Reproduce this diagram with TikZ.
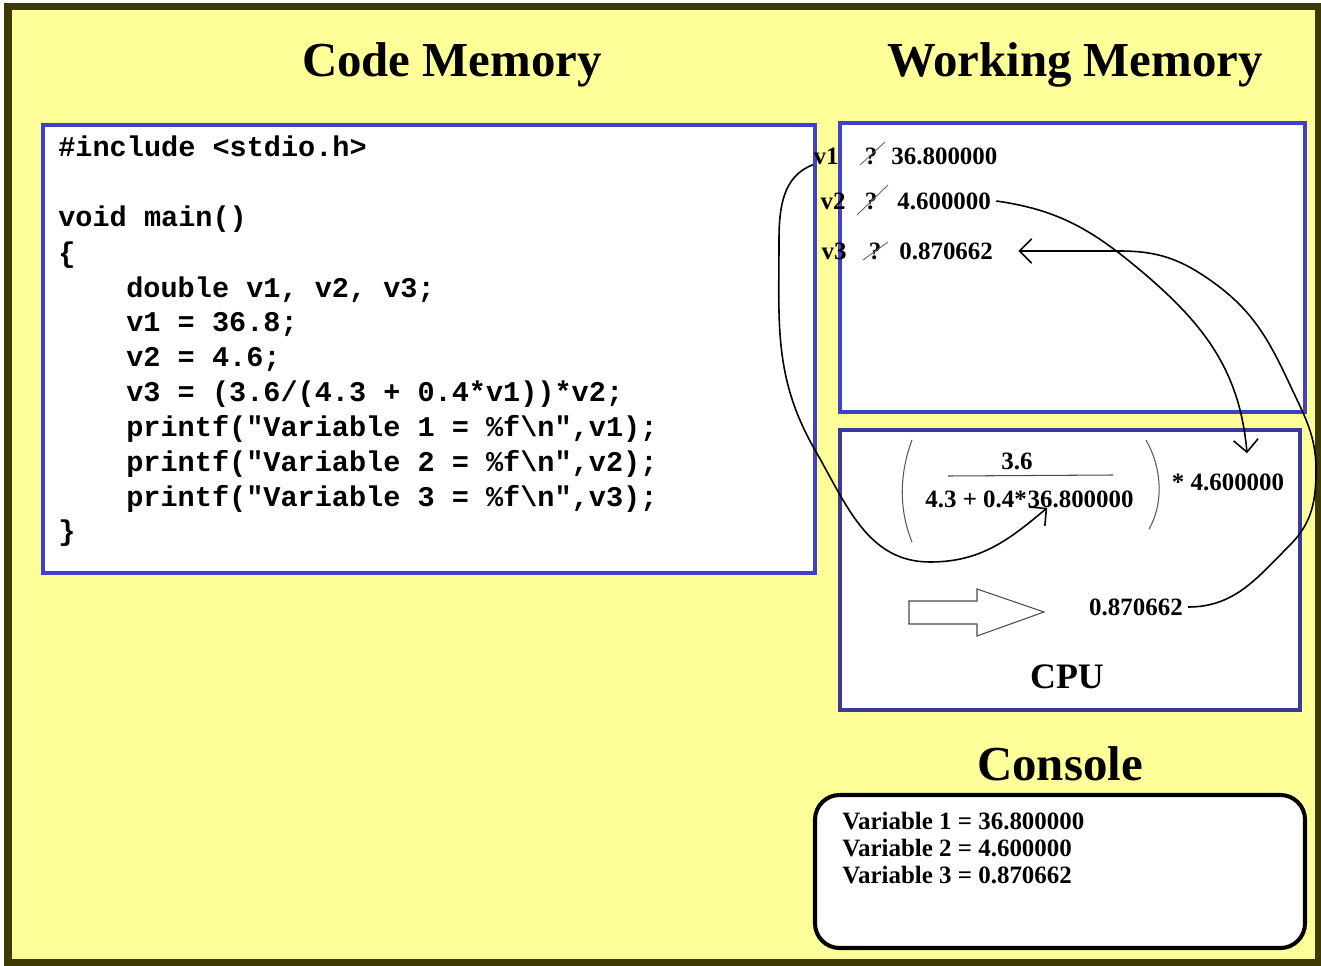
\documentclass[tikz,border=0pt]{standalone}
\usepackage{fontspec}
\setmainfont{Liberation Serif}
\setmonofont{Liberation Mono}
\usepackage{xcolor}
\usetikzlibrary{arrows.meta,positioning}

\definecolor{paleyellow}{HTML}{FFFF99}
\definecolor{olivedark}{HTML}{3D3A00}
\definecolor{membox}{HTML}{4040CC}
\definecolor{cpubox}{HTML}{3A3A99}

\tikzset{
  title/.style={font=\fontsize{27.8}{33}\selectfont\bfseries, inner sep=0pt, anchor=base},
  val/.style={font=\fontsize{14.2}{17}\selectfont\bfseries, inner sep=0pt},
  codeline/.style={font=\fontsize{16.25}{20}\selectfont\ttfamily\bfseries, anchor=base west, inner sep=0pt},
  crossout/.style={draw=gray!80!black, line width=0.5pt},
  scribble/.style={line width=0.9pt, -{Straight Barb[length=7pt,width=14pt]}}
}

\begin{document}
\frenchspacing
\begin{tikzpicture}[x=0.02cm,y=-0.02cm]
  \useasboundingbox (0,0) rectangle (1321,966);
  % slide background
  \draw[olivedark, line width=4pt, fill=paleyellow] (8,6.5) rectangle (1318,963);

  % headings
  \node[title] (codetitle) at (452,77) {Code Memory};
  \node[title] (worktitle) at (1075,77) {Working Memory};
  \node[title] (contitle) at (1060,780) {Console};

  % code memory
  \draw[membox, line width=2.8pt, fill=white] (43,125) rectangle (815,573);
  \node[codeline] (c1) at (58,157) {\#include <stdio.h>};
  \node[codeline] (c2) at (58,227) {void main()};
  \node[codeline] (c3) at (58,262) {\{};
  \node[codeline] (c4) at (126,297) {double v1, v2, v3;};
  \node[codeline] (c5) at (126,331) {v1 = 36.8;};
  \node[codeline] (c6) at (126,366) {v2 = 4.6;};
  \node[codeline] (c7) at (126,401) {v3 = (3.6/(4.3 + 0.4*v1))*v2;};
  \node[codeline] (c8) at (126,436) {printf("Variable 1 = \%f\textbackslash n",v1);};
  \node[codeline] (c9) at (126,471) {printf("Variable 2 = \%f\textbackslash n",v2);};
  \node[codeline] (c10) at (126,506) {printf("Variable 3 = \%f\textbackslash n",v3);};
  \node[codeline] (c11) at (58,540) {\}};

  % working memory
  \draw[membox, line width=2.8pt, fill=white] (840,123) rectangle (1305,412);
  \node[val] (v1lbl) at (826,156) {v1};
  \node[val] (v2lbl) at (833,201) {v2};
  \node[val] (v3lbl) at (834,251) {v3};
  \node[val] (q1) at (871,156) {?};
  \node[val] (q2) at (871,201) {?};
  \node[val] (q3) at (875,251) {?};
  \draw[crossout] (860,165) -- (885,142);
  \draw[crossout] (857,215) -- (888,185);
  \draw[crossout] (863,260) -- (888,242);
  \node[val, anchor=west] (v1val) at (891,156) {36.800000};
  \node[val, anchor=west] (v2val) at (897,201) {4.600000};
  \node[val, anchor=west] (v3val) at (899,251) {0.870662};

  % cpu
  \draw[cpubox, line width=2.8pt, fill=white] (840,430) rectangle (1300,710);
  \node[val] (num) at (1017,461) {3.6};
  \draw[gray!60!black, line width=0.6pt] (948,476) -- (1113,475);
  \node[val, anchor=west] (denomc) at (925,499) {4.3 + 0.4*};
  \node[val, right=0pt of denomc] (denomv1) {36.800000};
  \draw[gray!70!black, line width=0.6pt] (912,440) .. controls (899,475) and (899,510) .. (912,542);
  \draw[gray!70!black, line width=0.6pt] (1146,440) .. controls (1163,470) and (1163,505) .. (1149,529);
  \node[val] (mult) at (1228,482) {* 4.600000};
  \draw[gray!60!black, line width=0.6pt, fill=white] (909,601) -- (977,601) -- (977,589) -- (1044,612)
    -- (977,636) -- (977,624) -- (909,624) -- cycle;
  \node[val] (result) at (1136,607) {0.870662};
  \node[font=\fontsize{20.4}{24}\selectfont\bfseries, inner sep=0pt] (cpu) at (1067,677) {CPU};

  % console
  \draw[black, line width=2.3pt, fill=white, rounded corners=14pt] (815,795) rectangle (1305,948);
  \node[val, anchor=west] (out1) at (842,821) {Variable 1 = 36.800000};
  \node[val, anchor=west] (out2) at (842,848) {Variable 2 = 4.600000};
  \node[val, anchor=west] (out3) at (842,875) {Variable 3 = 0.870662};

  % hand drawn data flow
  \draw[scribble] (v1lbl.south west) to[out=200,in=90] (779,240) to[out=-90,in=120] (815,450)
    to[out=-60,in=180] (930,562) to[out=0,in=220] ([xshift=0.4cm]denomv1.south west);
  \draw[scribble] ([xshift=0.1cm]v2val.east) to[out=-8,in=140] (1140,270) to[out=-40,in=95] ([xshift=0.38cm,yshift=0.4cm]mult.north);
  \draw[scribble] ([xshift=0.1cm]result.east) to[out=0,in=225] (1290,545) to[out=45,in=-90] (1316,470)
    to[out=90,in=-65] (1290,385) to[out=115,in=-35] (1210,280) to[out=145,in=0] (1120,251)
    -- ([xshift=0.5cm]v3val.east);
\end{tikzpicture}
\end{document}
